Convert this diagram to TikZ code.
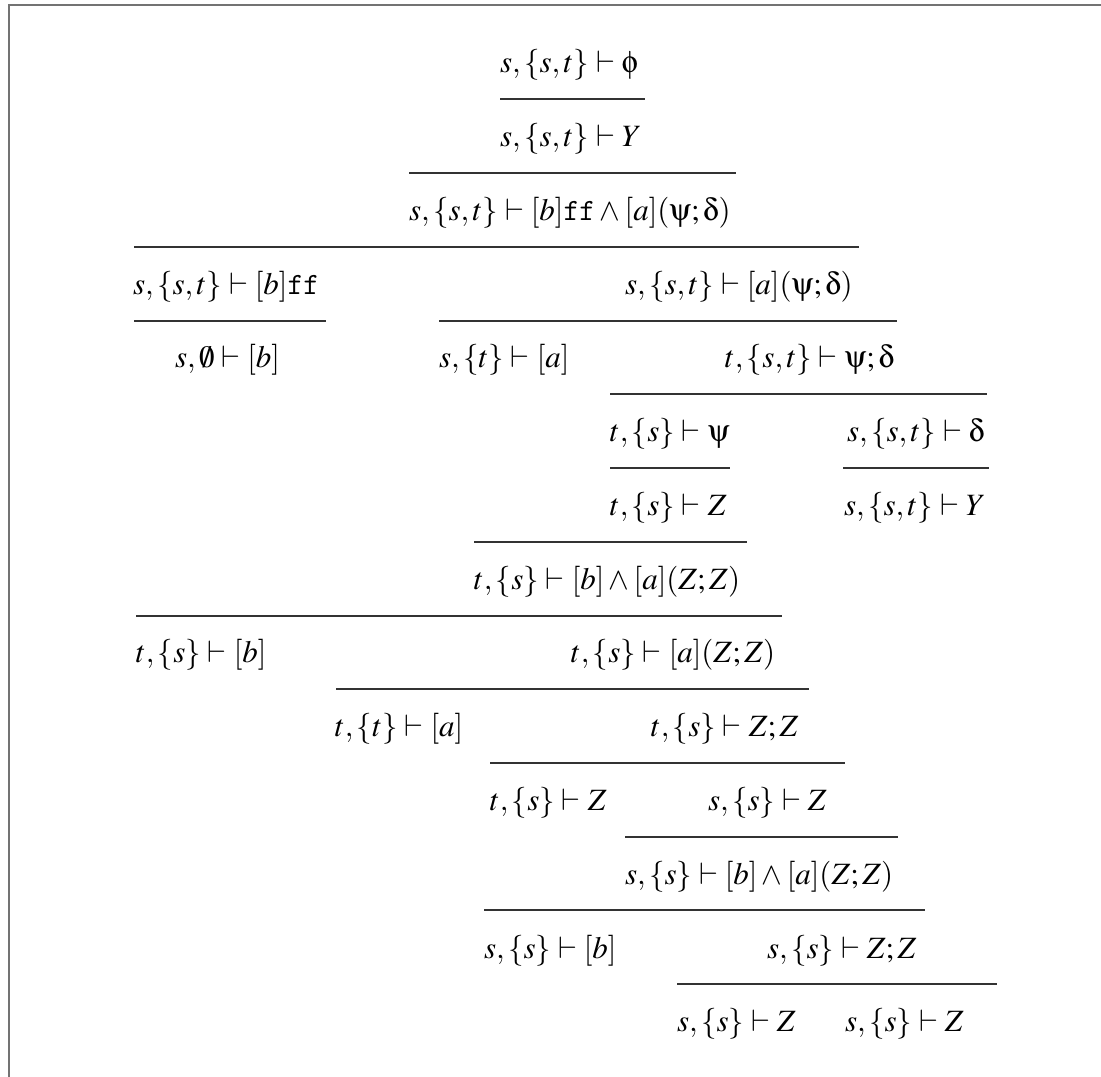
\documentclass[tikz,border=0pt]{standalone}
\usepackage{mathptmx}
\usepackage[no-math]{fontspec}
\setmainfont{Liberation Serif}
\DeclareSymbolFont{upsyfont}{U}{psy}{m}{n}
\DeclareMathSymbol{\gphi}{\mathord}{upsyfont}{`f}
\DeclareMathSymbol{\gpsi}{\mathord}{upsyfont}{`y}
\DeclareMathSymbol{\gdelta}{\mathord}{upsyfont}{`d}
\begin{document}
\begin{tikzpicture}[x=1bp,y=-1bp,
  tx/.style={inner sep=0pt,outer sep=0pt,anchor=base west,font=\fontsize{31bp}{37bp}\selectfont},
  rule/.style={line width=1.5bp,draw=black!80},
  frame/.style={line width=2bp,draw=black!55}]
\useasboundingbox (0,0) rectangle (1101,1077);
\draw[frame] (8.5,1077) -- (8.5,5) -- (1101,5);
% formulas
\node[tx] (n1)  at (500,72)  {$s,\{s,t\}\vdash\gphi$};
\node[tx] (n2)  at (500,146) {$s,\{s,t\}\vdash Y$};
\node[tx] (n3)  at (409,220) {$s,\{s,t\}\vdash[b]\texttt{ff}\wedge[a](\gpsi;\gdelta)$};
\node[tx] (n4)  at (133,294) {$s,\{s,t\}\vdash[b]\texttt{ff}$};
\node[tx] (n5)  at (625,294) {$s,\{s,t\}\vdash[a](\gpsi;\gdelta)$};
\node[tx] (n6)  at (175,367) {$s,\emptyset\vdash[b]$};
\node[tx] (n7)  at (439,367) {$s,\{t\}\vdash[a]$};
\node[tx] (n8)  at (725,367) {$t,\{s,t\}\vdash\gpsi;\gdelta$};
\node[tx] (n9)  at (610,441) {$t,\{s\}\vdash\gpsi$};
\node[tx] (n10) at (847,441) {$s,\{s,t\}\vdash\gdelta$};
\node[tx] (n11) at (610,515) {$t,\{s\}\vdash Z$};
\node[tx] (n12) at (844,515) {$s,\{s,t\}\vdash Y$};
\node[tx] (n13) at (474,589) {$t,\{s\}\vdash[b]\wedge[a](Z;Z)$};
\node[tx] (n14) at (136,662) {$t,\{s\}\vdash[b]$};
\node[tx] (n15) at (571,662) {$t,\{s\}\vdash[a](Z;Z)$};
\node[tx] (n16) at (335,736) {$t,\{t\}\vdash[a]$};
\node[tx] (n17) at (651,736) {$t,\{s\}\vdash Z;Z$};
\node[tx] (n18) at (490,810) {$t,\{s\}\vdash Z$};
\node[tx] (n19) at (708,810) {$s,\{s\}\vdash Z$};
\node[tx] (n20) at (625,884) {$s,\{s\}\vdash[b]\wedge[a](Z;Z)$};
\node[tx] (n21) at (484,958) {$s,\{s\}\vdash[b]$};
\node[tx] (n22) at (767,958) {$s,\{s\}\vdash Z;Z$};
\node[tx] (n23) at (677,1031) {$s,\{s\}\vdash Z$};
\node[tx] (n24) at (845,1031) {$s,\{s\}\vdash Z$};
% inference rules
\draw[rule] (500,99) -- (645,99);
\draw[rule] (409,173) -- (736,173);
\draw[rule] (134,247) -- (859,247);
\draw[rule] (134,321) -- (326,321);
\draw[rule] (439,321) -- (897,321);
\draw[rule] (610,394) -- (987,394);
\draw[rule] (610,468) -- (730,468);
\draw[rule] (843,468) -- (989,468);
\draw[rule] (474,542) -- (747,542);
\draw[rule] (136,616) -- (782,616);
\draw[rule] (336,689) -- (809,689);
\draw[rule] (490,763) -- (845,763);
\draw[rule] (625,837) -- (898,837);
\draw[rule] (484,910) -- (925,910);
\draw[rule] (677,984) -- (997,984);
\end{tikzpicture}
\end{document}
